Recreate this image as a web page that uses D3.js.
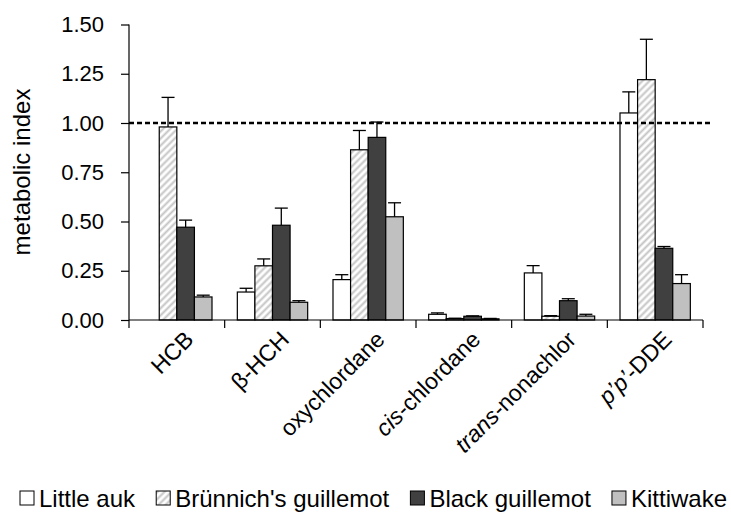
<!DOCTYPE html>
<html>
<head>
<meta charset="utf-8">
<script src="https://cdn.jsdelivr.net/npm/d3@7"></script>
<style>
  html, body { margin: 0; padding: 0; background: #fff; }
  svg { display: block; font-family: "Liberation Sans", Arial, sans-serif; }
</style>
</head>
<body>
<svg id="chart" width="731" height="525"></svg>
<script>
// ---- data ----
const categories = ["HCB", "β-HCH", "oxychlordane", "cis-chlordane", "trans-nonachlor", "p'p'-DDE"];
const seriesNames = ["Little auk", "Brünnich's guillemot", "Black guillemot", "Kittiwake"];
const littleAuk      = [null, 0.142, 0.205, 0.029, 0.239, 1.051];
const littleAukSE    = [null, 0.019, 0.025, 0.007, 0.037, 0.107];
const brunnich       = [0.980, 0.275, 0.864, 0.007, 0.019, 1.220];
const brunnichSE     = [0.150, 0.035, 0.098, 0.002, 0.003, 0.205];
const blackGuillemot = [0.471, 0.481, 0.927, 0.019, 0.098, 0.364];
const blackGuillemotSE = [0.036, 0.087, 0.078, 0.002, 0.010, 0.009];
const kittiwake      = [0.117, 0.090, 0.524, 0.006, 0.020, 0.185];
const kittiwakeSE    = [0.009, 0.008, 0.071, 0.002, 0.009, 0.045];
const yTicks = [0, 0.25, 0.5, 0.75, 1.0, 1.25, 1.5];
const referenceLine = 1.0;
const yLabel = "metabolic index";

const seriesValues = [littleAuk, brunnich, blackGuillemot, kittiwake];
const seriesErrors = [littleAukSE, brunnichSE, blackGuillemotSE, kittiwakeSE];

// ---- layout ----
const svg = d3.select("#chart");
const plotLeft = 129, plotRight = 703, plotTop = 24.5, plotBottom = 320;

const defs = svg.append("defs");
const pat = defs.append("pattern")
  .attr("id", "hatch").attr("patternUnits", "userSpaceOnUse")
  .attr("width", 5).attr("height", 5)
  .attr("patternTransform", "rotate(45)");
pat.append("rect").attr("width", 5).attr("height", 5).attr("fill", "#fff");
pat.append("line").attr("x1", 1.5).attr("y1", 0).attr("x2", 1.5).attr("y2", 5)
  .attr("stroke", "#c4c4c4").attr("stroke-width", 2);

const fills = ["#ffffff", "url(#hatch)", "#404040", "#c0c0c0"];

const x0 = d3.scaleBand().domain(categories).range([plotLeft, plotRight]).padding(0);
const x1 = d3.scaleBand().domain(d3.range(seriesNames.length))
  .range([0, x0.bandwidth()]).paddingInner(0).paddingOuter(0.72);
const y = d3.scaleLinear().domain([0, 1.5]).range([plotBottom, plotTop]);

// bars
const barData = [];
categories.forEach((c, ci) => {
  seriesNames.forEach((s, si) => {
    const v = seriesValues[si][ci];
    if (v !== null) barData.push({c, si, v, e: seriesErrors[si][ci]});
  });
});

const g = svg.append("g");
g.selectAll("rect.bar").data(barData).join("rect")
  .attr("class", "bar")
  .attr("x", d => x0(d.c) + x1(d.si))
  .attr("y", d => y(d.v))
  .attr("width", x1.bandwidth())
  .attr("height", d => y(0) - y(d.v))
  .attr("fill", d => fills[d.si])
  .attr("stroke", "#000").attr("stroke-width", 1.2);

// error bars (upper only)
const capW = 13;
const eb = g.selectAll("g.err").data(barData).join("g").attr("class", "err");
eb.append("line")
  .attr("x1", d => x0(d.c) + x1(d.si) + x1.bandwidth() / 2)
  .attr("x2", d => x0(d.c) + x1(d.si) + x1.bandwidth() / 2)
  .attr("y1", d => y(d.v))
  .attr("y2", d => y(d.v + d.e))
  .attr("stroke", "#000").attr("stroke-width", 1.3);
eb.append("line")
  .attr("x1", d => x0(d.c) + x1(d.si) + x1.bandwidth() / 2 - capW / 2)
  .attr("x2", d => x0(d.c) + x1(d.si) + x1.bandwidth() / 2 + capW / 2)
  .attr("y1", d => y(d.v + d.e))
  .attr("y2", d => y(d.v + d.e))
  .attr("stroke", "#000").attr("stroke-width", 1.3);

// reference dashed line
svg.append("line")
  .attr("x1", plotLeft).attr("x2", 710)
  .attr("y1", y(referenceLine)).attr("y2", y(referenceLine))
  .attr("stroke", "#000").attr("stroke-width", 2.5)
  .attr("stroke-dasharray", "5,3");

// y axis
const yAxis = d3.axisLeft(y).tickValues(yTicks).tickFormat(d3.format(".2f"))
  .tickSize(8).tickPadding(17);
const yg = svg.append("g").attr("transform", `translate(${plotLeft},0)`).call(yAxis);
yg.select(".domain").attr("d", `M0,${plotTop}V${plotBottom}`).attr("stroke-width", 1.2);
yg.selectAll(".tick line").attr("stroke-width", 1.2);
yg.selectAll(".tick text").attr("font-size", 22).attr("fill", "#000")
  .attr("font-family", "'Liberation Sans', Arial, sans-serif");

// x axis
const xBoundaries = categories.map(c => x0(c)).concat([plotRight]);
const xg = svg.append("g");
xg.append("line").attr("x1", plotLeft).attr("x2", plotRight)
  .attr("y1", plotBottom).attr("y2", plotBottom)
  .attr("stroke", "#000").attr("stroke-width", 1.2);
xg.selectAll("line.xt").data(xBoundaries).join("line").attr("class", "xt")
  .attr("x1", d => d).attr("x2", d => d)
  .attr("y1", plotBottom).attr("y2", plotBottom + 8)
  .attr("stroke", "#000").attr("stroke-width", 1.2);

// x labels with italic prefixes
const labelParts = {
  "HCB": [["HCB", false]],
  "β-HCH": [["β-HCH", false]],
  "oxychlordane": [["oxychlordane", false]],
  "cis-chlordane": [["cis", true], ["-chlordane", false]],
  "trans-nonachlor": [["trans", true], ["-nonachlor", false]],
  "p'p'-DDE": [["p’p’", true], ["-DDE", false]]
};
categories.forEach(c => {
  const cx = x0(c) + x0.bandwidth() / 2 + 18;
  const t = svg.append("text")
    .attr("transform", `translate(${cx},${plotBottom + 21}) rotate(-45)`)
    .attr("text-anchor", "end")
    .attr("font-size", 23);
  labelParts[c].forEach(([txt, it]) => {
    t.append("tspan").text(txt).attr("font-style", it ? "italic" : "normal");
  });
});

// y label
svg.append("text")
  .attr("transform", `translate(30,172) rotate(-90)`)
  .attr("text-anchor", "middle")
  .attr("font-size", 24)
  .text(yLabel);

// legend
const legend = svg.append("g").attr("transform", "translate(0,498)");
const legendFont = 24, boxS = 14, boxGap = 5, legendLeft = 20, legendRight = 727;
const items = seriesNames.map((s, i) => {
  const item = legend.append("g");
  item.append("rect").attr("x", 0).attr("y", -boxS / 2).attr("width", boxS).attr("height", boxS)
    .attr("fill", fills[i]).attr("stroke", "#000").attr("stroke-width", 1);
  const txt = item.append("text").attr("x", boxS + boxGap).attr("y", 0).attr("dy", "0.36em")
    .attr("font-size", legendFont).text(s);
  return {item, w: boxS + boxGap + txt.node().getComputedTextLength()};
});
const totalW = d3.sum(items, d => d.w);
const gap = (legendRight - legendLeft - totalW) / (items.length - 1);
let lx = legendLeft;
items.forEach(d => { d.item.attr("transform", `translate(${lx},0)`); lx += d.w + gap; });
</script>
</body>
</html>
